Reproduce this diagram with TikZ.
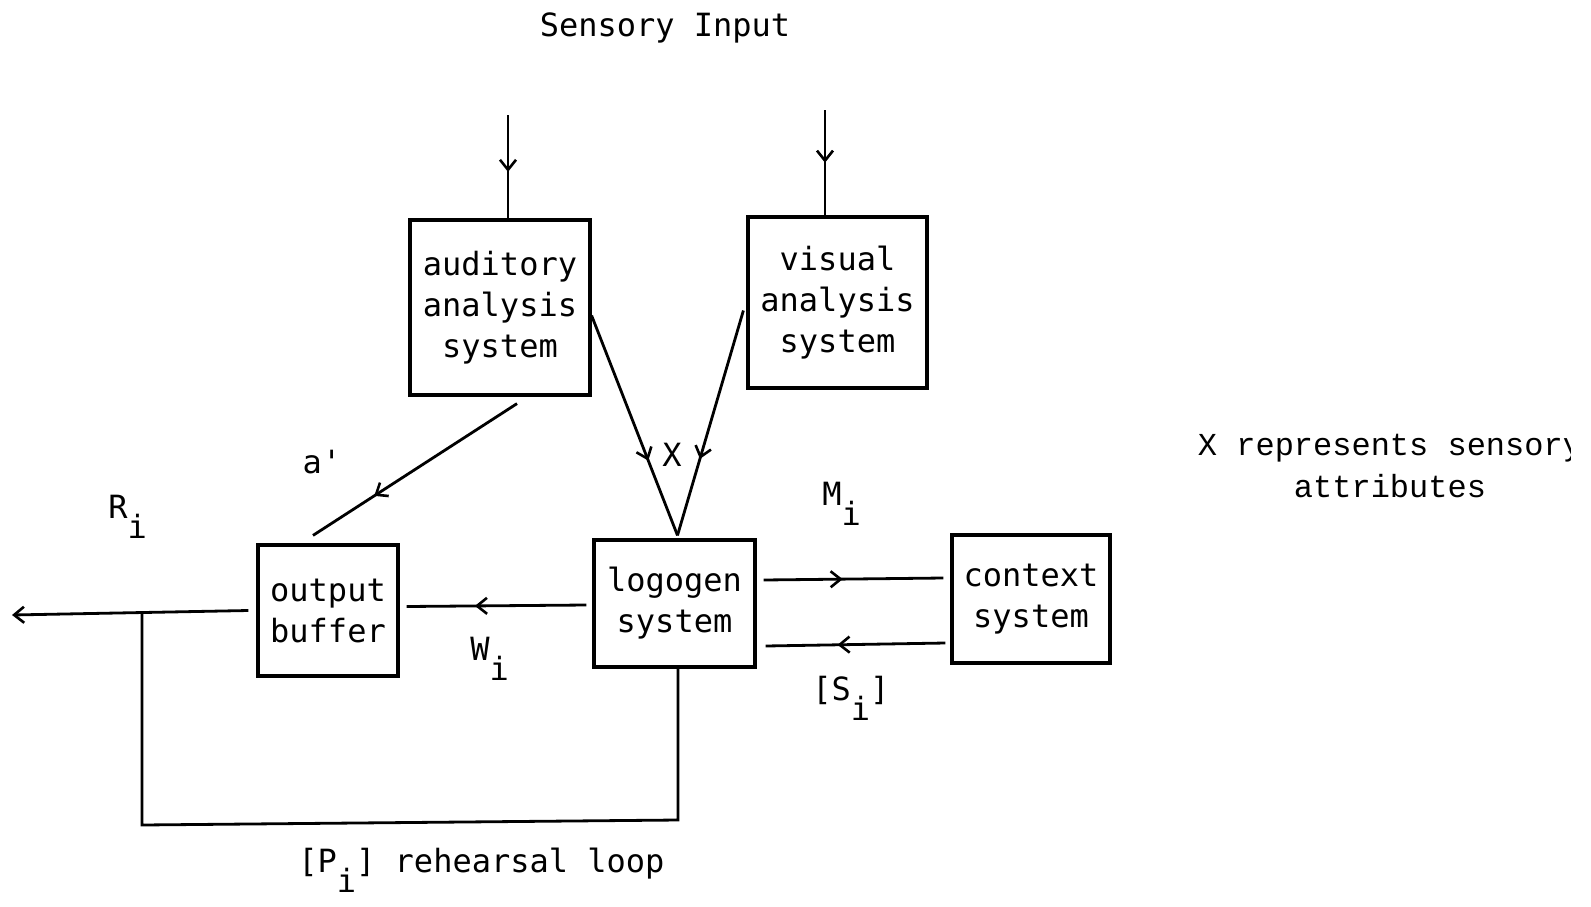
\documentclass[tikz,border=0pt]{standalone}
\usepackage{fontspec}
\newfontfamily\lblfont{DejaVu Sans Mono}
\newfontfamily\courfont{Liberation Mono}
\usetikzlibrary{arrows.meta,decorations.markings,calc}
\newcommand\subi{\raisebox{-0.65em}{i}}
\begin{document}
\begin{tikzpicture}[x=0.5pt,y=-0.5pt,
  every node/.style={font=\lblfont\fontsize{16}{20.5}\selectfont},
  box/.style={draw, line width=1.6pt, inner sep=0pt, align=center},
  conn/.style={line width=1.4pt},
  lbl/.style={anchor=base west, inner sep=0pt},
  midarr/.style={postaction={decorate}, decoration={markings, mark=at position #1 with {\arrow{Straight Barb[length=5pt,width=8pt,line width=1.3pt]}}}},
  endarr/.style={-{Straight Barb[length=5pt,width=8pt,line width=1.3pt]}}
  ]
\fill[white] (0,0) rectangle (1591,906);
\useasboundingbox (0,0) rectangle (1591,906);

% boxes
\node[box, minimum width=90pt, minimum height=87.5pt] (aud) at (500,307.5) {auditory\\analysis\\system};
\node[box, minimum width=89.5pt, minimum height=85.5pt] (vis) at (837.5,302.5) {visual\\analysis\\system};
\node[box, minimum width=70pt, minimum height=65.5pt] (buf) at (328,610.5) {output\\buffer};
\node[box, minimum width=80.5pt, minimum height=63.5pt] (log) at (674.5,603.5) {logogen\\system};
\node[box, minimum width=79pt, minimum height=64pt] (ctx) at (1031,599) {context\\system};

% coordinates
\coordinate (audin) at (508,115);
\coordinate (visin) at (825,110);
\coordinate (out) at (12,615);
\coordinate (lp0) at (142,612);
\coordinate (lpa) at (142,825);
\coordinate (lpb) at (678,820);

% connectors
\draw[conn, midarr=0.55] (audin) -- (audin |- aud.north);
\draw[conn, midarr=0.5] (visin) -- (visin |- vis.north);
\draw[conn, midarr=0.66] ($(aud.east)+(0,8)$) -- ($(log.north)+(3,-3)$);
\draw[conn, midarr=0.66] ($(vis.west)+(-3,8)$) -- ($(log.north)+(3,-3)$);
\draw[conn, midarr=0.7] ($(aud.south)+(17,7)$) -- ($(buf.north)+(-15,-8)$);
\draw[conn, midarr=0.62] ($(log.west)+(-6,1.5)$) -- ($(buf.east)+(7,-4)$);
\draw[conn, endarr] ($(buf.west)+(-8,0)$) -- (out);
\draw[conn] (lp0) -- (lpa) -- (lpb) -- (lpb |- log.south);
\draw[conn, midarr=0.44] ($(log.east)+(7,-23.5)$) -- ($(ctx.west)+(-7,-21)$);
\draw[conn, midarr=0.6] ($(ctx.west)+(-5,44)$) -- ($(log.east)+(9,42.5)$);

% labels
\node (sens) at (665,28) {Sensory Input};
\node (xl) at (672,455) {X};
\node (al) at (322,462) {a'};
\node[lbl] (rl) at (108,518) {R\subi};
\node[lbl] (wl) at (470,660) {W\subi};
\node[lbl] (ml) at (822,505) {M\subi};
\node[lbl] (sl) at (812,700) {[S\subi]};
\node[lbl] (pl) at (298,872) {[P\subi] rehearsal loop};

\begin{scope}
\clip (1100,400) rectangle (1570,520);
\node[font=\courfont\fontsize{16}{21}\selectfont, align=center] (xr) at (1390,466) {X represents sensory\\attributes};
\end{scope}
\end{tikzpicture}
\end{document}
